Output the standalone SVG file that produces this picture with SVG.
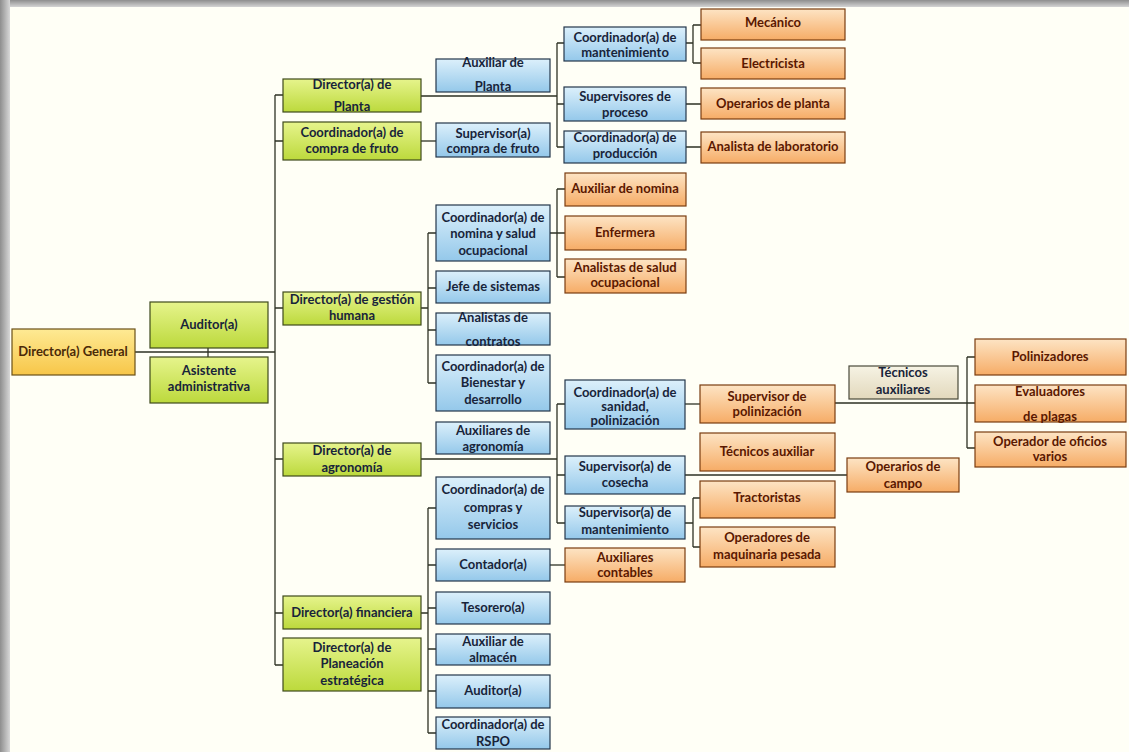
<svg xmlns="http://www.w3.org/2000/svg" width="1129" height="752" viewBox="0 0 1129 752">
  <defs>
    <linearGradient id="gGreen" x1="0" y1="0" x2="0" y2="1">
      <stop offset="0" stop-color="#e6f48c"/>
      <stop offset="1" stop-color="#bcd93c"/>
    </linearGradient>
    <linearGradient id="gBlue" x1="0" y1="0" x2="0" y2="1">
      <stop offset="0" stop-color="#dcf0fb"/>
      <stop offset="1" stop-color="#94c8ea"/>
    </linearGradient>
    <linearGradient id="gOrange" x1="0" y1="0" x2="0" y2="1">
      <stop offset="0" stop-color="#fde4c4"/>
      <stop offset="1" stop-color="#f6ac66"/>
    </linearGradient>
    <linearGradient id="gGold" x1="0" y1="0" x2="0" y2="1">
      <stop offset="0" stop-color="#feea94"/>
      <stop offset="1" stop-color="#f7c648"/>
    </linearGradient>
    <linearGradient id="gBeige" x1="0" y1="0" x2="0" y2="1">
      <stop offset="0" stop-color="#f6f3e4"/>
      <stop offset="1" stop-color="#e2d8bc"/>
    </linearGradient>
    <linearGradient id="shadeTop" x1="0" y1="0" x2="0" y2="1">
      <stop offset="0" stop-color="#8e8e8e"/>
      <stop offset="1" stop-color="#d4d4d4"/>
    </linearGradient>
    <linearGradient id="shadeLeft" x1="0" y1="0" x2="1" y2="0">
      <stop offset="0" stop-color="#8e8e8e"/>
      <stop offset="1" stop-color="#d8d8d8"/>
    </linearGradient>
  </defs>
  <style>
    .box rect { stroke-width: 1.2; }
    .green rect { fill: url(#gGreen); stroke: #3e4a1c; }
    .blue rect { fill: url(#gBlue); stroke: #23364a; }
    .orange rect { fill: url(#gOrange); stroke: #7a3c10; }
    .gold rect { fill: url(#gGold); stroke: #6a5018; }
    .beige rect { fill: url(#gBeige); stroke: #4a4a3a; }
    text { font-family: Lato, "Liberation Sans", sans-serif; font-size: 13px; font-weight: bold; text-anchor: middle; }
    .green text, .blue text, .beige text { fill: #18243a; }
    .orange text { fill: #5a1800; }
    .gold text { fill: #4a2a08; }
    #connectors path { fill: none; stroke: #2e3224; stroke-width: 1.3; }
  </style>

  <!-- page and frame shading -->
  <rect x="0" y="0" width="1129" height="752" fill="#fffff6"/>
  <rect x="0" y="0" width="1129" height="7" fill="url(#shadeTop)"/>
  <rect x="0" y="0" width="10" height="752" fill="url(#shadeLeft)"/>

  <!-- connectors -->
  <g id="connectors">
    <!-- general to trunk -->
    <path d="M135 352 H275 M208 348 V357"/>
    <path d="M275 95 V665"/>
    <path d="M275 95 H283 M275 141 H283 M275 308 H283 M275 459 H283 M275 613 H283 M275 665 H283"/>
    <!-- planta -->
    <path d="M421 96 H557 M557 43 V147 M557 43 H564 M557 104 H564 M557 147 H564"/>
    <path d="M686 43 H693 M693 25 V63 M693 25 H701 M693 63 H701"/>
    <path d="M686 104 H701 M686 147 H701"/>
    <!-- compra de fruto -->
    <path d="M421 141 H436"/>
    <!-- gestion humana -->
    <path d="M421 308 H428 M428 233 V383 M428 233 H436 M428 288 H436 M428 330 H436 M428 383 H436"/>
    <path d="M550 233 H557 M557 189 V277 M557 189 H565 M557 233 H565 M557 277 H565"/>
    <!-- agronomia -->
    <path d="M421 459 H557 M557 404 V523 M557 404 H565 M557 475 H565 M557 523 H565"/>
    <path d="M685 404 H700"/>
    <path d="M835 403 H967 M967 357 V448 M967 357 H975 M967 403 H975 M967 448 H975"/>
    <path d="M685 475 H847"/>
    <path d="M685 523 H693 M693 498 V547 M693 498 H700 M693 547 H700"/>
    <!-- financiera -->
    <path d="M421 613 H428 M428 508 V733 M428 508 H436 M428 565 H436 M428 608 H436 M428 649 H436 M428 691 H436 M428 733 H436"/>
    <path d="M550 565 H565"/>
  </g>

  <!-- top level -->
  <g id="n-director-general" class="box gold"><rect x="12" y="329" width="123" height="46"/><text x="73" y="356">Director(a) General</text></g>
  <g id="n-auditor" class="box green"><rect x="150" y="302" width="118" height="46"/><text x="209" y="329">Auditor(a)</text></g>
  <g id="n-asistente" class="box green"><rect x="150" y="357" width="118" height="46"/><text x="209" y="375">Asistente</text><text x="209" y="391">administrativa</text></g>

  <!-- directors -->
  <g id="n-dir-planta" class="box green"><rect x="283" y="79" width="138" height="33"/><text x="352" y="89">Director(a) de</text><text x="352" y="111">Planta</text></g>
  <g id="n-coord-compra" class="box green"><rect x="283" y="122" width="138" height="38"/><text x="352" y="137">Coordinador(a) de</text><text x="352" y="153">compra de fruto</text></g>
  <g id="n-dir-gestion" class="box green"><rect x="283" y="292" width="138" height="33"/><text x="352" y="304">Director(a) de gestión</text><text x="352" y="320">humana</text></g>
  <g id="n-dir-agro" class="box green"><rect x="283" y="443" width="138" height="33"/><text x="352" y="455">Director(a) de</text><text x="352" y="472">agronomía</text></g>
  <g id="n-dir-fin" class="box green"><rect x="283" y="596" width="138" height="33"/><text x="352" y="617">Director(a) financiera</text></g>
  <g id="n-dir-plan" class="box green"><rect x="283" y="638" width="138" height="53"/><text x="352" y="652">Director(a) de</text><text x="352" y="668">Planeación</text><text x="352" y="685">estratégica</text></g>

  <!-- third level -->
  <g id="n-aux-planta" class="box blue"><rect x="436" y="59" width="114" height="33"/><text x="493" y="67">Auxiliar de</text><text x="493" y="91">Planta</text></g>
  <g id="n-sup-compra" class="box blue"><rect x="436" y="123" width="114" height="34"/><text x="493" y="138">Supervisor(a)</text><text x="493" y="153">compra de fruto</text></g>
  <g id="n-coord-nomina" class="box blue"><rect x="436" y="205" width="114" height="56"/><text x="493" y="222">Coordinador(a) de</text><text x="493" y="238">nomina y salud</text><text x="493" y="255">ocupacional</text></g>
  <g id="n-jefe-sistemas" class="box blue"><rect x="436" y="271" width="114" height="32"/><text x="493" y="291">Jefe de sistemas</text></g>
  <g id="n-analistas-contratos" class="box blue"><rect x="436" y="313" width="114" height="32"/><text x="493" y="322">Analistas de</text><text x="493" y="346">contratos</text></g>
  <g id="n-coord-bienestar" class="box blue"><rect x="436" y="355" width="114" height="56"/><text x="493" y="371">Coordinador(a) de</text><text x="493" y="387">Bienestar y</text><text x="493" y="404">desarrollo</text></g>
  <g id="n-aux-agro" class="box blue"><rect x="436" y="422" width="114" height="32"/><text x="493" y="435">Auxiliares de</text><text x="493" y="451">agronomía</text></g>
  <g id="n-coord-compras" class="box blue"><rect x="436" y="477" width="114" height="62"/><text x="493" y="494">Coordinador(a) de</text><text x="493" y="512">compras y</text><text x="493" y="529">servicios</text></g>
  <g id="n-contador" class="box blue"><rect x="436" y="549" width="114" height="32"/><text x="493" y="569">Contador(a)</text></g>
  <g id="n-tesorero" class="box blue"><rect x="436" y="592" width="114" height="32"/><text x="493" y="612">Tesorero(a)</text></g>
  <g id="n-aux-almacen" class="box blue"><rect x="436" y="634" width="114" height="31"/><text x="493" y="646">Auxiliar de</text><text x="493" y="662">almacén</text></g>
  <g id="n-auditor-fin" class="box blue"><rect x="436" y="675" width="114" height="33"/><text x="493" y="695">Auditor(a)</text></g>
  <g id="n-coord-rspo" class="box blue"><rect x="436" y="717" width="114" height="32"/><text x="493" y="729">Coordinador(a) de</text><text x="493" y="746">RSPO</text></g>

  <!-- fourth level (blue) -->
  <g id="n-coord-mant" class="box blue"><rect x="564" y="27" width="122" height="34"/><text x="625" y="42">Coordinador(a) de</text><text x="625" y="57">mantenimiento</text></g>
  <g id="n-sup-proceso" class="box blue"><rect x="564" y="87" width="122" height="34"/><text x="625" y="101">Supervisores de</text><text x="625" y="117">proceso</text></g>
  <g id="n-coord-prod" class="box blue"><rect x="564" y="131" width="122" height="32"/><text x="625" y="142">Coordinador(a) de</text><text x="625" y="158">producción</text></g>
  <g id="n-coord-sanidad" class="box blue"><rect x="565" y="380" width="120" height="49"/><text x="625" y="397">Coordinador(a) de</text><text x="625" y="411">sanidad,</text><text x="625" y="425">polinización</text></g>
  <g id="n-sup-cosecha" class="box blue"><rect x="565" y="456" width="120" height="38"/><text x="625" y="471">Supervisor(a) de</text><text x="625" y="487">cosecha</text></g>
  <g id="n-sup-mant" class="box blue"><rect x="565" y="506" width="120" height="33"/><text x="625" y="517">Supervisor(a) de</text><text x="625" y="534">mantenimiento</text></g>

  <!-- operational staff -->
  <g id="n-mecanico" class="box orange"><rect x="701" y="9" width="144" height="31"/><text x="773" y="27">Mecánico</text></g>
  <g id="n-electricista" class="box orange"><rect x="701" y="48" width="144" height="31"/><text x="773" y="68">Electricista</text></g>
  <g id="n-operarios-planta" class="box orange"><rect x="701" y="88" width="144" height="31"/><text x="773" y="108">Operarios de planta</text></g>
  <g id="n-analista-lab" class="box orange"><rect x="701" y="132" width="144" height="31"/><text x="773" y="151">Analista de laboratorio</text></g>
  <g id="n-aux-nomina" class="box orange"><rect x="565" y="173" width="121" height="33"/><text x="625" y="193">Auxiliar de nomina</text></g>
  <g id="n-enfermera" class="box orange"><rect x="565" y="216" width="121" height="34"/><text x="625" y="237">Enfermera</text></g>
  <g id="n-analistas-salud" class="box orange"><rect x="565" y="259" width="121" height="34"/><text x="625" y="272">Analistas de salud</text><text x="625" y="287">ocupacional</text></g>
  <g id="n-aux-contables" class="box orange"><rect x="565" y="548" width="120" height="34"/><text x="625" y="562">Auxiliares</text><text x="625" y="577">contables</text></g>
  <g id="n-sup-polinizacion" class="box orange"><rect x="700" y="385" width="135" height="38"/><text x="767" y="401">Supervisor de</text><text x="767" y="416">polinización</text></g>
  <g id="n-tecnicos-auxiliar" class="box orange"><rect x="700" y="433" width="135" height="38"/><text x="767" y="456">Técnicos auxiliar</text></g>
  <g id="n-tractoristas" class="box orange"><rect x="700" y="481" width="135" height="37"/><text x="767" y="502">Tractoristas</text></g>
  <g id="n-operadores-maq" class="box orange"><rect x="700" y="527" width="135" height="40"/><text x="767" y="542">Operadores de</text><text x="767" y="559">maquinaria pesada</text></g>
  <g id="n-operarios-campo" class="box orange"><rect x="847" y="458" width="112" height="34"/><text x="903" y="471">Operarios de</text><text x="903" y="488">campo</text></g>
  <g id="n-tecnicos-auxiliares" class="box beige"><rect x="849" y="366" width="109" height="33"/><text x="903" y="377">Técnicos</text><text x="903" y="394">auxiliares</text></g>
  <g id="n-polinizadores" class="box orange"><rect x="975" y="339" width="151" height="36"/><text x="1050" y="361">Polinizadores</text></g>
  <g id="n-evaluadores" class="box orange"><rect x="975" y="385" width="151" height="37"/><text x="1050" y="396">Evaluadores</text><text x="1050" y="421">de plagas</text></g>
  <g id="n-operador-oficios" class="box orange"><rect x="975" y="432" width="151" height="35"/><text x="1050" y="446">Operador de oficios</text><text x="1050" y="461">varios</text></g>
</svg>
